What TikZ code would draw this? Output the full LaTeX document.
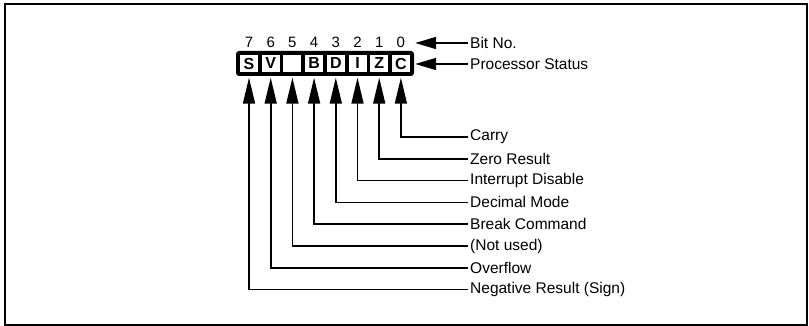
\documentclass[tikz,border=0pt]{standalone}
\usepackage{fontspec}
\setmainfont{Liberation Sans}
\usetikzlibrary{shapes,arrows.meta,fit,positioning}

\begin{document}
\begin{tikzpicture}[x=1pt, y=1pt, auto,
    % Styles for the status register figure
    regbox/.style={rectangle, fill=black, rounded corners=3pt, minimum width=178pt, minimum height=25pt, inner sep=0pt},
    cell/.style={rectangle, fill=white, minimum width=18pt, minimum height=17pt, inner sep=0pt, font=\fontsize{16}{16}\selectfont\bfseries, node distance=21.7pt},
    bitnum/.style={inner sep=0pt, font=\fontsize{15}{15}\selectfont, node distance=21.5pt},
    flag/.style={anchor=west, inner sep=2pt, font=\fontsize{15.5}{18}\selectfont},
    line/.style={draw, line width=1.6pt, -{Triangle[length=26pt, width=12pt]}, shorten >=1.5pt},
    hline/.style={draw, line width=1.6pt, -{Triangle[length=21pt, width=12pt]}, shorten >=1pt}]

    \useasboundingbox (0,0) rectangle (809,326);
    \draw[line width=2pt] (5,1) rectangle (807,322);

    % Node: Register box
    \node [regbox] (status) at (325,262.5) {};

    % Nodes: the eight flag cells
    \node [cell] (c7) at (249,262.5) {S};
    \node [cell, right of=c7] (c6) {V};
    \node [cell, right of=c6] (c5) {};
    \node [cell, right of=c5] (c4) {B};
    \node [cell, right of=c4] (c3) {D};
    \node [cell, right of=c3] (c2) {I};
    \node [cell, right of=c2] (c1) {Z};
    \node [cell, right of=c1] (c0) {C};

    % Nodes: bit numbers
    \node [bitnum, above of=c7] (n7) {7};
    \node [bitnum, above of=c6] (n6) {6};
    \node [bitnum, above of=c5] (n5) {5};
    \node [bitnum, above of=c4] (n4) {4};
    \node [bitnum, above of=c3] (n3) {3};
    \node [bitnum, above of=c2] (n2) {2};
    \node [bitnum, above of=c1] (n1) {1};
    \node [bitnum, above of=c0] (n0) {0};

    % Nodes: captions
    \node [flag] (bitno) at (468,283) {Bit No.};
    \node [flag] (psw) at (468,262) {Processor Status};

    % Nodes: flag names
    \node [flag] (carry) at (468,189) {Carry};
    \node [flag, below=21.8pt of carry.west, anchor=west] (zero) {Zero Result};
    \node [flag, below=21.8pt of zero.west, anchor=west] (irq) {Interrupt Disable};
    \node [flag, below=21.8pt of irq.west, anchor=west] (decimal) {Decimal Mode};
    \node [flag, below=21.8pt of decimal.west, anchor=west] (brk) {Break Command};
    \node [flag, below=21.8pt of brk.west, anchor=west] (unused) {(Not used)};
    \node [flag, below=21.8pt of unused.west, anchor=west] (overflow) {Overflow};
    \node [flag, below=21.8pt of overflow.west, anchor=west] (sign) {Negative Result (Sign)};

    % Edges: captions point at the register
    \path [hline] (bitno.west) -- (bitno.west -| status.east);
    \path [hline] (psw.west) -- (psw.west -| status.east);

    % Edges: each flag name points up to its bit
    \path [line] (carry.west) -| (c0 |- status.south);
    \path [line] (zero.west) -| (c1 |- status.south);
    \path [line] (irq.west) -| (c2 |- status.south);
    \path [line] (decimal.west) -| (c3 |- status.south);
    \path [line] (brk.west) -| (c4 |- status.south);
    \path [line] (unused.west) -| (c5 |- status.south);
    \path [line] (overflow.west) -| (c6 |- status.south);
    \path [line] (sign.west) -| (c7 |- status.south);

\end{tikzpicture}
\end{document}
